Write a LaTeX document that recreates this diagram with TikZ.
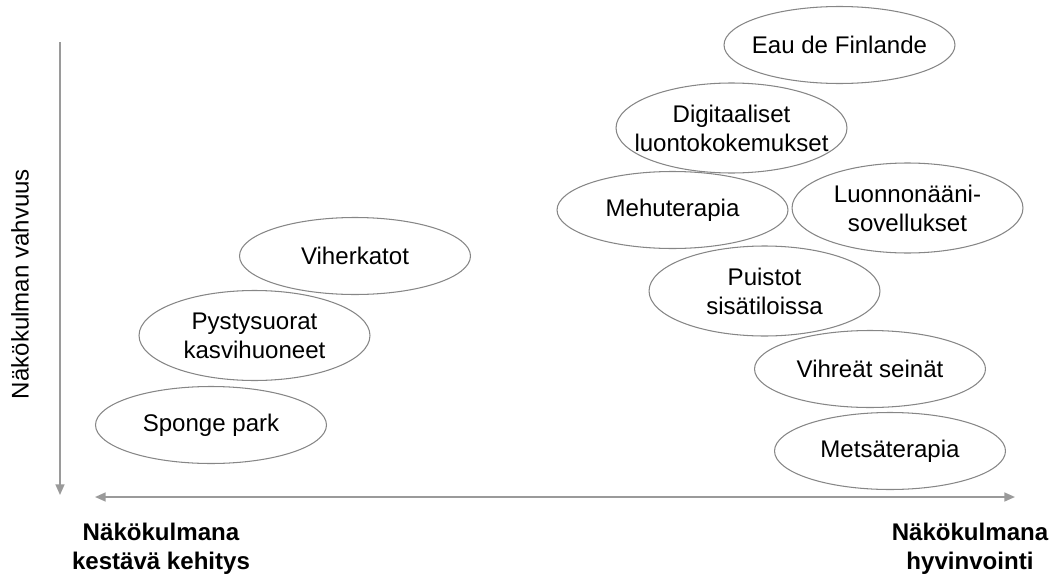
\documentclass[tikz,border=0pt]{standalone}
\usepackage{fontspec}
\setmainfont{Liberation Sans}
\usetikzlibrary{arrows.meta,shapes.geometric}
\definecolor{axisgray}{HTML}{9A9A9A}
\definecolor{rimgray}{HTML}{868686}

\begin{document}
\begin{tikzpicture}[x=0.02cm,y=-0.02cm,
    font=\fontsize{13.7}{16.5}\selectfont,
    bubble/.style={ellipse,draw=rimgray,line width=.6pt,inner sep=0pt,
      minimum width=4.62cm,minimum height=1.54cm},
    tall/.style={minimum height=1.8cm},
    lbl/.style={align=center,inner sep=0pt},
    axis/.style={axisgray,line width=1pt,-{Triangle[length=6pt,width=5pt]}}]
  \useasboundingbox (0,0) rectangle (1058,578);

  % axes
  \coordinate (vtop) at (60,42);
  \coordinate (vbot) at (60,495);
  \coordinate (hleft) at (95,497);
  \coordinate (hright) at (1015,497);
  \draw[axis] (vtop) -- (vbot);
  \draw[axis,{Triangle[length=6pt,width=5pt]}-{Triangle[length=6pt,width=5pt]}] (hleft) -- (hright);
  \node[lbl,rotate=90] (vlab) at (20,284) {Näkökulman vahvuus};
  \node[lbl,font=\fontsize{13.7}{16.5}\selectfont\bfseries] (left) at (161,549)
    {Näkökulmana\\kestävä kehitys};
  \node[lbl,font=\fontsize{13.7}{16.5}\selectfont\bfseries] (right) at (970,549)
    {Näkökulmana\\hyvinvointi};

  % sustainability side
  \node[bubble] (viher) at (355,256) {};
  \node[lbl] (viher-t) at (viher) {Viherkatot};
  \node[bubble,tall] (pysty) at (254.5,335.5) {};
  \node[lbl] (pysty-t) at (pysty) {Pystysuorat\\kasvihuoneet};
  \node[bubble] (sponge) at (211,425) {};
  \node[lbl] (sponge-t) at (sponge) {Sponge park};

  % wellbeing side
  \node[bubble] (eau) at (839.5,45) {};
  \node[lbl] (eau-t) at (eau) {Eau de Finlande};
  \node[bubble,tall] (digi) at (731.5,128) {};
  \node[lbl] (digi-t) at (digi) {Digitaaliset\\luontokokemukset};
  \node[bubble] (mehu) at (672.5,210) {};
  \node[lbl] (mehu-t) at (mehu) {Mehuterapia};
  \node[bubble,tall] (luonto) at (907.5,208) {};
  \node[lbl] (luonto-t) at (luonto) {Luonnonääni-\\sovellukset};
  \node[bubble,tall] (puisto) at (764.5,291) {};
  \node[lbl] (puisto-t) at (puisto) {Puistot\\sisätiloissa};
  \node[bubble] (seina) at (870,369) {};
  \node[lbl] (seina-t) at (seina) {Vihreät seinät};
  \node[bubble] (metsa) at (890,451) {};
  \node[lbl] (metsa-t) at (metsa) {Metsäterapia};
\end{tikzpicture}
\end{document}
